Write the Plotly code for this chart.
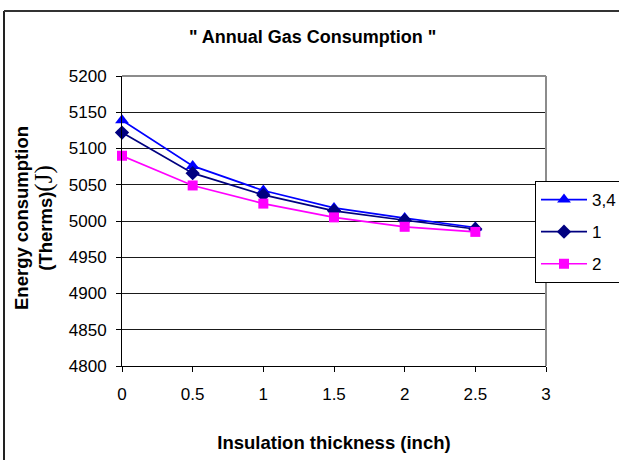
import plotly.graph_objects as go

thickness = [0, 0.5, 1, 1.5, 2, 2.5]
series_names = ["3,4", "1", "2"]
gas_34 = [5139, 5076, 5042, 5018, 5004, 4991]
gas_1 = [5122, 5066, 5036, 5014, 5001, 4989]
gas_2 = [5090, 5049, 5024, 5005, 4992, 4985]

x_ticks = [0, 0.5, 1, 1.5, 2, 2.5, 3]
y_ticks = [4800, 4850, 4900, 4950, 5000, 5050, 5100, 5150, 5200]

styles = [
    dict(color="#0000FF", symbol="triangle-up", size=12),
    dict(color="#000080", symbol="diamond", size=11),
    dict(color="#FF00FF", symbol="square", size=10),
]

fig = go.Figure()
for i, (name, vals) in enumerate(zip(series_names, [gas_34, gas_1, gas_2])):
    st = styles[i]
    fig.add_trace(go.Scatter(
        x=thickness, y=vals, name=name, mode="lines+markers",
        line=dict(color=st["color"], width=1.7),
        marker=dict(color=st["color"], symbol=st["symbol"], size=st["size"]),
        cliponaxis=False, legendgroup=f"g{i}",
    ))

W, H = 619, 460
L, R, T, B = 122, 73, 76, 94
pw, ph = W - L - R, H - T - B

def px(xp):
    return (xp - L) / pw

def py(yp):
    return (H - B - yp) / ph

fig.update_layout(
    width=W, height=H,
    margin=dict(l=L, r=R, t=T, b=B, autoexpand=False),
    paper_bgcolor="white", plot_bgcolor="white",
    font=dict(family="Liberation Sans, Arial, sans-serif", size=17, color="black"),
    title=dict(text="<b>\" Annual Gas Consumption \"</b>", x=0.505, xref="container",
               y=1 - 37 / H, yref="container", yanchor="middle", xanchor="center",
               font=dict(size=18)),
    showlegend=True,
    legend=dict(x=px(535), y=py(181), xanchor="left", yanchor="top",
                bordercolor="black", borderwidth=1, bgcolor="white",
                font=dict(size=17), traceorder="grouped", tracegroupgap=7,
                itemwidth=46),
    xaxis=dict(range=[0, 3], tickvals=x_ticks, ticktext=[str(v) for v in x_ticks],
               showgrid=False, zeroline=False, showline=True, linecolor="black",
               linewidth=1, ticks="outside", ticklen=5, tickcolor="black",
               ticklabelstandoff=8,
               title=dict(text="<b>Insulation thickness (inch)</b>", standoff=32,
                          font=dict(size=18.5))),
    yaxis=dict(range=[4800, 5200], tickvals=y_ticks, ticktext=[str(v) for v in y_ticks],
               showgrid=True, gridcolor="#1a1a1a", gridwidth=1, zeroline=False,
               showline=True, linecolor="black", linewidth=1, ticks="outside",
               ticklen=5, tickcolor="black", ticklabelstandoff=6),
)

# y-axis title (two lines, with serif "(J)")
fig.add_annotation(
    xref="paper", yref="paper", x=px(34), y=py(218), xanchor="center", yanchor="middle",
    textangle=-90, showarrow=False,
    text="<b>Energy consumption<br>(Therms)</b><span style='font-family:Liberation Serif;font-size:25px'>(J)</span>",
    font=dict(size=18.5, color="black"),
)

# plot area gray border (top & right)
fig.add_shape(type="line", xref="paper", yref="paper", x0=0, x1=1, y0=1, y1=1,
              line=dict(color="#8c8c8c", width=2), layer="above")
fig.add_shape(type="line", xref="paper", yref="paper", x0=1, x1=1, y0=0, y1=1,
              line=dict(color="#8c8c8c", width=2), layer="above")

# outer chart frame (left & top visible)
fig.add_shape(type="line", xref="paper", yref="paper", x0=px(4), x1=px(4),
              y0=py(470), y1=py(11), line=dict(color="#222222", width=2))
fig.add_shape(type="line", xref="paper", yref="paper", x0=px(4), x1=px(640),
              y0=py(11), y1=py(11), line=dict(color="#333333", width=2))

fig.write_html("out.html")
